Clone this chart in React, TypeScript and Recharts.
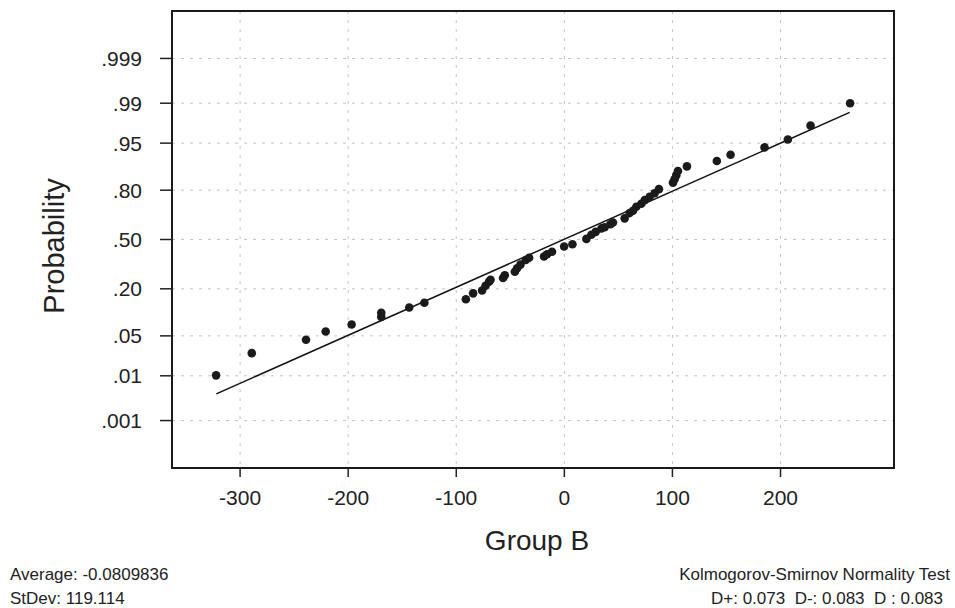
import {
  ComposedChart,
  CartesianGrid,
  ReferenceArea,
  Scatter,
  XAxis,
  YAxis,
} from 'recharts'

// Group B values (x) and their plotted probabilities
const groupB = [
  -322.2, -289.2, -239, -220.8, -196.8, -169.4, -169.4, -143.5, -129.5, -91.1,
  -84.4, -76.1, -72.9, -69.6, -68.3, -56.7, -55.1, -45.8, -43.7, -40.6,
  -35.7, -32.6, -18.8, -16, -11.4, -0.2, 7.5, 20.4, 25, 29,
  34.3, 37.3, 42.6, 45, 55.8, 60.4, 63.5, 66.6, 71.2, 74.3,
  78.9, 83.5, 87.5, 100.5, 102, 103.6, 105.1, 113.4, 141.1, 153.8,
  185.2, 206.8, 227.8, 264.4,
]
const probability = [
  0.0102, 0.0262, 0.0436, 0.0582, 0.0735, 0.0934, 0.1056, 0.123, 0.14, 0.154,
  0.179, 0.192, 0.215, 0.236, 0.246, 0.256, 0.271, 0.291, 0.312, 0.334,
  0.363, 0.378, 0.386, 0.401, 0.417, 0.452, 0.468, 0.504, 0.532, 0.552,
  0.575, 0.583, 0.603, 0.614, 0.641, 0.674, 0.688, 0.712, 0.729, 0.749,
  0.767, 0.785, 0.805, 0.834, 0.848, 0.864, 0.879, 0.894, 0.91, 0.926,
  0.942, 0.956, 0.974, 0.99,
]

// fitted normal line, end points
const fitX = [-322, 264]
const fitP = [0.0042, 0.985]

const probTicks = [0.001, 0.01, 0.05, 0.2, 0.5, 0.8, 0.95, 0.99, 0.999]
const probLabels = ['.001', '.01', '.05', '.20', '.50', '.80', '.95', '.99', '.999']
const xTicks = [-300, -200, -100, 0, 100, 200]

// inverse standard normal cdf (Acklam)
function probit(p: number) {
  const a = [-39.69683028665376, 220.9460984245205, -275.9285104469687, 138.357751867269, -30.66479806614716, 2.506628277459239]
  const b = [-54.47609879822406, 161.5858368580409, -155.6989798598866, 66.8013118877172, -13.28068155288572]
  const c = [-0.007784894002430293, -0.3223964580411365, -2.400758277161838, -2.549732539343734, 4.374664141464968, 2.938163982698783]
  const d = [0.007784695709041462, 0.3224671290700398, 2.445134137142996, 3.754408661907416]
  const pl = 0.02425
  if (p < pl || p > 1 - pl) {
    const q = Math.sqrt(-2 * Math.log(p < pl ? p : 1 - p))
    const v = (((((c[0] * q + c[1]) * q + c[2]) * q + c[3]) * q + c[4]) * q + c[5]) /
      ((((d[0] * q + d[1]) * q + d[2]) * q + d[3]) * q + 1)
    return p < pl ? v : -v
  }
  const q = p - 0.5
  const r = q * q
  return ((((((a[0] * r + a[1]) * r + a[2]) * r + a[3]) * r + a[4]) * r + a[5]) * q) /
    (((((b[0] * r + b[1]) * r + b[2]) * r + b[3]) * r + b[4]) * r + 1)
}

const points = groupB.map((x, i) => ({ x, z: probit(probability[i]) }))
const fitLine = fitX.map((x, i) => ({ x, z: probit(fitP[i]) }))
const zTicks = probTicks.map(probit)

const X_DOMAIN: [number, number] = [-363, 305]
const Z_DOMAIN: [number, number] = [-3.9, 3.9]
const FONT = "'Liberation Sans', Arial, Helvetica, sans-serif"

const tickLabel = (v: number) => {
  const i = zTicks.findIndex((t) => Math.abs(t - v) < 1e-6)
  return i >= 0 ? probLabels[i] : ''
}

export default function App() {
  return (
    <div
      style={{
        position: 'absolute',
        left: 0,
        top: 0,
        width: 955,
        height: 608,
        background: '#fff',
        fontFamily: FONT,
        color: '#222',
      }}
    >
      <ComposedChart
        width={955}
        height={608}
        margin={{ top: 11, right: 61, bottom: 100, left: 0 }}
      >
        <CartesianGrid stroke="#c4c4c4" strokeDasharray="3 6" />
        <XAxis
          type="number"
          dataKey="x"
          domain={X_DOMAIN}
          ticks={xTicks}
          allowDataOverflow
          height={40}
          axisLine={false}
          tickSize={9}
          tickMargin={13}
          tickLine={{ stroke: '#222', strokeWidth: 1.5 }}
          tick={{ fill: '#222', fontSize: 21, fontFamily: FONT }}
        />
        <YAxis
          type="number"
          dataKey="z"
          domain={Z_DOMAIN}
          ticks={zTicks}
          allowDataOverflow
          width={172}
          axisLine={false}
          tickSize={12}
          tickMargin={18}
          tickFormatter={tickLabel}
          tickLine={{ stroke: '#222', strokeWidth: 1.5 }}
          tick={{ fill: '#222', fontSize: 21, fontFamily: FONT }}
        />
        <Scatter
          data={fitLine}
          line={{ stroke: '#111', strokeWidth: 1.5 }}
          shape={() => <g />}
          isAnimationActive={false}
        />
        <Scatter
          data={points}
          fill="#1a1a1a"
          shape={(p: any) => <circle cx={p.cx} cy={p.cy} r={4.3} fill="#1a1a1a" />}
          isAnimationActive={false}
        />
        <ReferenceArea
          x1={X_DOMAIN[0]}
          x2={X_DOMAIN[1]}
          y1={Z_DOMAIN[0]}
          y2={Z_DOMAIN[1]}
          fill="none"
          stroke="#1a1a1a"
          strokeWidth={2}
          ifOverflow="visible"
        />
      </ComposedChart>

      <div
        style={{
          position: 'absolute',
          left: 54,
          top: 246,
          transform: 'translate(-50%, -50%) rotate(-90deg)',
          fontSize: 29,
          lineHeight: 1,
          whiteSpace: 'nowrap',
        }}
      >
        Probability
      </div>
      <div
        style={{
          position: 'absolute',
          left: 537,
          top: 541,
          transform: 'translate(-50%, -50%)',
          fontSize: 28,
          lineHeight: 1,
          whiteSpace: 'nowrap',
        }}
      >
        Group B
      </div>

      <div style={{ position: 'absolute', left: 10, top: 563, fontSize: 17, lineHeight: '24px' }}>
        <div>Average: -0.0809836</div>
        <div>StDev: 119.114</div>
      </div>
      <div
        style={{
          position: 'absolute',
          right: 5,
          top: 563,
          fontSize: 17,
          lineHeight: '24px',
          textAlign: 'right',
          whiteSpace: 'pre',
        }}
      >
        <div>Kolmogorov-Smirnov Normality Test</div>
        <div style={{ marginRight: 7 }}>D+: 0.073  D-: 0.083  D : 0.083</div>
      </div>
    </div>
  )
}
